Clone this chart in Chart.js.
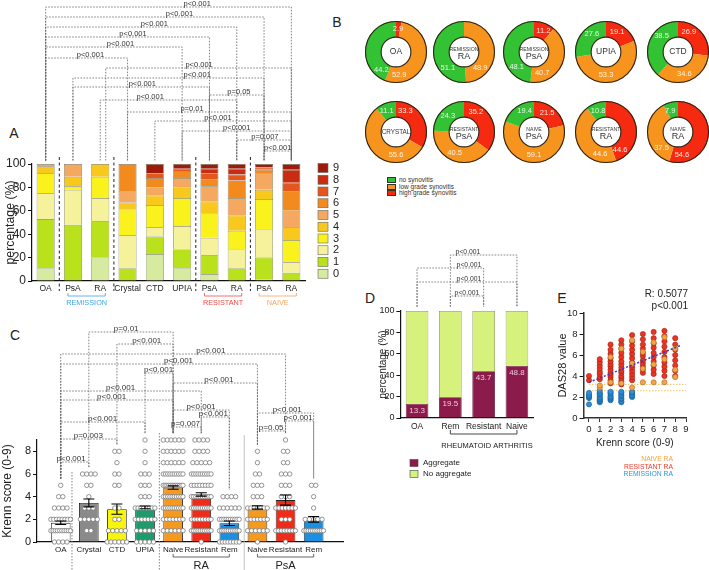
<!DOCTYPE html>
<html>
<head>
<meta charset="utf-8">
<script src="https://cdn.jsdelivr.net/npm/chart.js@4.4.1/dist/chart.umd.min.js"></script>
<style>
body { margin: 0; background: #fff; width: 709px; height: 570px; position: relative; overflow: hidden; font-family: 'Liberation Sans', Arial, sans-serif; }
canvas { position: absolute; }
.lt { position: absolute; font-size: 14px; color: #222; transform: translate(-50%, -50%); }
#legB { position: absolute; left: 387px; top: 177px; font-size: 6.5px; color: #333; line-height: 6.6px; }
#legB span { display: inline-block; width: 7px; height: 4px; border: 0.8px solid #333; margin-right: 3px; vertical-align: middle; }
</style>
</head>
<body>
<div class="lt" style="left:14px;top:133px">A</div>
<div class="lt" style="left:337px;top:22px">B</div>
<div class="lt" style="left:15px;top:335px">C</div>
<div class="lt" style="left:370px;top:298px">D</div>
<div class="lt" style="left:562px;top:298px">E</div>
<div id="legB">
  <div><span style="background:#33c233"></span>no synovitis</div>
  <div><span style="background:#f7941d"></span>low grade synovitis</div>
  <div><span style="background:#f52a10"></span>high grade synovitis</div>
</div>
<script>
// ---- A: Krenn score distribution per group (%) ----
var aCats = ['OA', 'PsA', 'RA', 'Crystal', 'CTD', 'UPIA', 'PsA', 'RA', 'PsA', 'RA'];
var aScores = ['0', '1', '2', '3', '4', '5', '6', '7', '8', '9'];
var aS0 = [11, 0, 20, 0, 23, 11, 6, 0, 1, 0];
var aS1 = [42, 48, 31, 11, 15, 16, 16, 11, 19, 7];
var aS2 = [22, 30, 20, 28, 8, 20, 15, 16, 24, 9];
var aS3 = [17, 3, 18, 22, 19, 24, 21, 16, 26, 19];
var aS4 = [6, 8, 11, 6, 8, 9, 10, 13, 8, 11];
var aS5 = [2, 11, 0, 10, 7, 8, 13, 15, 14, 14];
var aS6 = [0, 0, 0, 23, 8, 6, 6, 15, 3, 17];
var aS7 = [0, 0, 0, 0, 4, 2, 5, 5, 2, 7];
var aS8 = [0, 0, 0, 0, 0, 0, 4, 5, 0, 11];
var aS9 = [0, 0, 0, 0, 8, 4, 4, 4, 3, 5];

// ---- B: synovitis grade (%) ----
var bNames = [['OA'], ['REMISSION', 'RA'], ['REMISSION', 'PsA'], ['UPIA'], ['CTD'],
              ['CRYSTAL'], ['RESISTANT', 'PsA'], ['NAIVE', 'PsA'], ['RESISTANT', 'RA'], ['NAIVE', 'RA']];
var bNone = [44.2, 51.1, 48.1, 27.6, 38.5, 11.1, 24.3, 19.4, 10.8, 7.9];
var bLow = [52.9, 48.9, 40.7, 53.3, 34.6, 55.6, 40.5, 59.1, 44.6, 37.5];
var bHigh = [2.9, 0, 11.2, 19.1, 26.9, 33.3, 35.2, 21.5, 44.6, 54.6];

// ---- C: Krenn score per group ----
var cCats = ['OA', 'Crystal', 'CTD', 'UPIA', 'Naive', 'Resistant', 'Rem', 'Naive', 'Resistant', 'Rem'];
var cMean = [1.7, 3.45, 2.9, 3.05, 4.8, 4.2, 1.65, 3.05, 3.7, 2.0];
var cSem = [0.15, 0.35, 0.45, 0.12, 0.15, 0.15, 0.2, 0.15, 0.45, 0.25];
// patients at Krenn score 0..9
var cCountsOA = [4, 10, 8, 4, 2, 1, 0, 0, 0, 0];
var cCountsCrystal = [0, 2, 5, 3, 1, 2, 4, 0, 0, 0];
var cCountsCTD = [6, 5, 2, 2, 0, 2, 2, 1, 2, 0];
var cCountsUPIA = [5, 5, 7, 8, 3, 3, 3, 1, 1, 1];
var cCountsRANaive = [0, 6, 7, 10, 10, 12, 10, 6, 6, 6];
var cCountsRAResistant = [1, 10, 8, 10, 10, 8, 10, 5, 4, 4];
var cCountsRARem = [8, 10, 10, 6, 4, 0, 0, 0, 0, 0];
var cCountsPsANaive = [1, 6, 7, 7, 3, 3, 2, 1, 1, 0];
var cCountsPsAResistant = [1, 8, 3, 7, 3, 3, 3, 2, 2, 1];
var cCountsPsARem = [0, 10, 5, 1, 1, 2, 0, 0, 0, 0];

// ---- D: lymphoid aggregates (%) ----
var dCats = ['OA', 'Rem', 'Resistant', 'Naive'];
var dAggregate = [13.3, 19.5, 43.7, 48.8];
var dNoAggregate = [86.7, 80.5, 56.3, 51.2];

// ---- E: DAS28 vs Krenn score ----
var eRemX = [0, 0, 0, 0, 0, 0, 1, 1, 1, 1, 1, 1, 1, 1, 1, 1, 2, 2, 2, 2, 2, 2, 2, 2, 3, 3, 3, 3, 3, 3, 3, 3, 4, 4, 4, 4, 4];
var eRemY = [1.3, 1.9, 2.0, 2.1, 2.2, 2.4, 1.5, 1.6, 1.7, 1.8, 1.9, 2.0, 2.2, 2.3, 2.4, 2.6, 1.7, 1.8, 1.9, 2.0, 2.1, 2.3, 2.4, 2.5,
             1.5, 1.6, 1.8, 1.9, 2.1, 2.2, 2.4, 2.5, 2.0, 2.1, 2.2, 2.4, 2.5];
var eNaiveX = [1, 1, 2, 2, 3, 3, 4, 4, 4, 5, 5, 5, 6, 6, 6, 7, 7, 7, 8, 8, 8];
var eNaiveY = [2.9, 3.1, 3.4, 5.8, 3.3, 6.6, 2.9, 5.2, 7.4, 3.4, 4.7, 6.3, 3.4, 5.1, 7.2, 3.4, 5.6, 7.7, 3.9, 4.6, 6.6];
var eResX = [0, 0, 1, 1, 1, 1, 1, 1, 1, 1,
             2, 2, 2, 2, 2, 2, 2, 2, 2, 2, 2, 2, 2,
             3, 3, 3, 3, 3, 3, 3, 3, 3, 3, 3, 3, 3, 3,
             4, 4, 4, 4, 4, 4, 4, 4, 4, 4, 4, 4, 4,
             5, 5, 5, 5, 5, 5, 5, 5, 5, 5, 5,
             6, 6, 6, 6, 6, 6, 6, 6, 6, 6,
             7, 7, 7, 7, 7, 7, 7, 7, 7, 7,
             8, 8, 8, 8, 8, 8, 8, 8];
var eResY = [3.6, 4.0, 3.7, 3.9, 4.2, 4.4, 4.7, 5.0, 5.3, 5.6,
             3.3, 3.6, 3.9, 4.1, 4.3, 4.6, 4.9, 5.1, 5.4, 5.7, 6.1, 6.5, 7.0,
             3.2, 3.5, 3.8, 4.0, 4.3, 4.5, 4.8, 5.1, 5.4, 5.8, 6.2, 6.6, 7.0, 7.4,
             3.6, 3.9, 4.2, 4.5, 4.8, 5.0, 5.3, 5.7, 6.1, 6.5, 6.9, 7.3, 7.9,
             4.3, 4.6, 4.9, 5.2, 5.5, 5.9, 6.2, 6.6, 7.0, 7.5, 8.0,
             4.2, 4.6, 5.0, 5.4, 5.8, 6.2, 6.7, 7.1, 7.6, 8.2,
             4.0, 4.5, 4.9, 5.3, 5.8, 6.3, 6.8, 7.3, 7.8, 8.3,
             4.0, 4.5, 5.0, 5.5, 6.0, 6.5, 7.0, 7.6];
var eFitX = [0, 8.5];
var eFitY = [3.4, 6.9];
var eThresholds = [2.6, 3.2];

var FONT = "'Liberation Sans', Arial, sans-serif";
Chart.defaults.font.family = FONT;
Chart.defaults.color = '#222';
Chart.defaults.animation = false;
Chart.defaults.responsive = false;
Chart.defaults.plugins.legend.display = false;
Chart.defaults.plugins.tooltip.enabled = false;

function mkCanvas(left, top, w, h) {
  var c = document.createElement('canvas');
  c.width = w; c.height = h;
  c.style.left = left + 'px'; c.style.top = top + 'px';
  document.body.appendChild(c);
  return c.getContext('2d');
}

function yAxis(min, max, step, size, title, tsize, tpad, width) {
  return {
    min: min, max: max,
    ticks: { stepSize: step, font: { size: size }, padding: 2, color: '#222' },
    grid: { drawOnChartArea: false, drawTicks: true, tickLength: 4, color: '#111' },
    border: { color: '#111', width: 1.2 },
    title: { display: true, text: title, font: { size: tsize }, padding: { top: tpad, bottom: 0 }, color: '#222' },
    afterFit: function (s) { s.width = width; }
  };
}

// dotted significance brackets; items: [from, to, yPixel, text, textX]
function brackets(items, legTop, font) {
  return {
    id: 'brackets',
    afterDraw: function (chart) {
      var ctx = chart.ctx, x = chart.scales.x, y = chart.scales.y;
      ctx.save();
      ctx.strokeStyle = '#666'; ctx.lineWidth = 0.8; ctx.setLineDash([1.6, 1.4]);
      ctx.fillStyle = '#333'; ctx.font = font; ctx.textAlign = 'center'; ctx.textBaseline = 'alphabetic';
      items.forEach(function (b) {
        var xa = x.getPixelForValue(b[0]), xb = x.getPixelForValue(b[1]), yy = b[2];
        var ta = Array.isArray(legTop) ? legTop[Math.round(b[0])] : legTop;
        var tb = Array.isArray(legTop) ? legTop[Math.round(b[1])] : legTop;
        var ya = Math.max(y.getPixelForValue(ta), yy), yb = Math.max(y.getPixelForValue(tb), yy);
        ctx.beginPath();
        ctx.moveTo(xa, ya); ctx.lineTo(xa, yy); ctx.lineTo(xb, yy); ctx.lineTo(xb, yb);
        ctx.stroke();
        ctx.fillText(b[3], x.getPixelForValue(b[4]), yy - 1.2);
      });
      ctx.restore();
    }
  };
}

// ================= A =================
var aStack = [aS0, aS1, aS2, aS3, aS4, aS5, aS6, aS7, aS8, aS9];
var aColors = ['#d6eba0', '#b9e21c', '#f6f29c', '#faf21c', '#f9c81c', '#f5a860', '#f28a1e', '#e5561c', '#c92c10', '#9e1a0a'];
var aSeparators = [0.5, 2.5, 5.5, 7.5];
var aGroups = [['REMISSION', 1, 2, '#3ea6e6'], ['RESISTANT', 6, 7, '#ef4b43'], ['NAIVE', 8, 9, '#f5a55a']];
var aBrackets = [
  [0, 9, 7, 'p<0.001', 5.55], [0, 8, 17, 'p<0.001', 4.9], [0, 7, 27, 'p<0.001', 3.98],
  [0, 6, 37, 'p<0.001', 3.2], [0, 5, 47, 'p<0.001', 2.74], [0, 3, 58, 'p<0.001', 1.64],
  [2.2, 9, 68, 'p<0.001', 5.62], [1, 8, 78, 'p<0.001', 5.55], [1, 6, 87, 'p<0.001', 3.54],
  [6, 8, 95, 'p=0.05', 7.08], [2, 7, 100, 'p<0.001', 3.83], [3, 9, 112, 'p=0.01', 5.36],
  [4, 9, 121, 'p<0.001', 6.31], [5, 9, 131, 'p<0.001', 7.0], [7, 9, 140, 'p=0.007', 8.03],
  [8, 9, 151, 'p<0.001', 8.5]
];

var aDeco = {
  id: 'aDeco',
  afterDraw: function (chart) {
    var ctx = chart.ctx, x = chart.scales.x;
    ctx.save();
    ctx.strokeStyle = '#222'; ctx.lineWidth = 1; ctx.setLineDash([3, 2.5]);
    aSeparators.forEach(function (v) {
      var px = x.getPixelForValue(v);
      ctx.beginPath(); ctx.moveTo(px, 157); ctx.lineTo(px, 291); ctx.stroke();
    });
    ctx.setLineDash([]);
    ctx.font = '7.3px ' + FONT; ctx.textAlign = 'center'; ctx.textBaseline = 'middle';
    aGroups.forEach(function (g) {
      var xa = x.getPixelForValue(g[1]) - 5, xb = x.getPixelForValue(g[2]) + 5;
      ctx.strokeStyle = g[3]; ctx.lineWidth = 0.8;
      ctx.beginPath(); ctx.moveTo(xa, 293); ctx.lineTo(xa, 296); ctx.lineTo(xb, 296); ctx.lineTo(xb, 293); ctx.stroke();
      ctx.fillStyle = g[3];
      ctx.fillText(g[0], (xa + xb) / 2, 302.5);
    });
    // legend, 9 on top
    ctx.font = '11px ' + FONT; ctx.textAlign = 'left';
    for (var k = 0; k < 10; k++) {
      var i = 9 - k, yy = 168 + k * 11.75;
      ctx.fillStyle = aColors[i]; ctx.fillRect(318, yy - 4.5, 10, 9);
      ctx.strokeStyle = '#666'; ctx.lineWidth = 0.6; ctx.strokeRect(318, yy - 4.5, 10, 9);
      ctx.fillStyle = '#222'; ctx.fillText(aScores[i], 333, yy);
    }
    ctx.restore();
  }
};

new Chart(mkCanvas(0, 0, 370, 315), {
  type: 'bar',
  data: {
    labels: aCats,
    datasets: aStack.map(function (d, i) {
      return { label: aScores[i], data: d, backgroundColor: aColors[i], borderColor: 'rgba(95,95,70,0.85)',
               borderWidth: 0.7, barPercentage: 0.66, categoryPercentage: 1 };
    })
  },
  options: {
    layout: { padding: { top: 164, right: 65, left: 0, bottom: 0 } },
    scales: {
      x: { stacked: true, grid: { display: false, drawTicks: false }, border: { color: '#111', width: 1.2 },
           ticks: { autoSkip: false, maxRotation: 0, font: { size: 8.5 }, padding: 3, color: '#222' },
           afterFit: function (s) { s.height = 34; } },
      y: Object.assign(yAxis(0, 100, 20, 12, 'percentage (%)', 12.3, 3, 32), { stacked: true })
    }
  },
  plugins: [aDeco, brackets(aBrackets, 103, '7.5px ' + FONT)]
});

// ================= B =================
var bCentersX = [396, 464, 534, 606, 678];
var bCentersY = [52, 132];
var bColors = ['#f52a10', '#f7941d', '#33c233'];
// where each value label sits (degrees clockwise from top): high, low, none
var bLabelAngles = [[5, 172, 220], [0, 135, 225], [24, 159, 229], [29, 180, 322], [28, 164, 314],
                    [24, 180, 336], [31, 204, 315], [35, 180, 336], [142, 195, 340], [170, 226, 340]];

function donutDeco(name, angles) {
  return {
    id: 'donutDeco',
    afterDatasetsDraw: function (chart) {
      var ctx = chart.ctx, arcs = chart.getDatasetMeta(0).data, a0 = arcs[0];
      var cx = a0.x, cy = a0.y, ro = a0.outerRadius, ri = a0.innerRadius, rm = (ro + ri) / 2;
      var vals = chart.data.datasets[0].data;
      ctx.save();
      ctx.strokeStyle = '#2e2416'; ctx.lineWidth = 1.1;
      ctx.beginPath(); ctx.arc(cx, cy, ro - 0.5, 0, 2 * Math.PI); ctx.stroke();
      ctx.beginPath(); ctx.arc(cx, cy, ri, 0, 2 * Math.PI); ctx.stroke();
      ctx.font = '7.5px ' + FONT; ctx.fillStyle = 'rgba(255,255,255,0.88)';
      ctx.textAlign = 'center'; ctx.textBaseline = 'middle';
      vals.forEach(function (v, i) {
        if (!v) return;
        var t = angles[i] * Math.PI / 180;
        ctx.fillText(v.toFixed(1), cx + rm * Math.sin(t), cy - rm * Math.cos(t));
      });
      ctx.fillStyle = '#333';
      if (name.length === 1) {
        ctx.font = (name[0].length > 4 ? 6.3 : 8.5) + 'px ' + FONT;
        ctx.fillText(name[0], cx, cy);
      } else {
        ctx.font = '5.2px ' + FONT; ctx.fillText(name[0], cx, cy - 2.5);
        ctx.font = '9px ' + FONT; ctx.fillText(name[1], cx, cy + 5);
      }
      ctx.restore();
    }
  };
}

bNames.forEach(function (name, i) {
  var cx = bCentersX[i % 5], cy = bCentersY[Math.floor(i / 5)];
  new Chart(mkCanvas(cx - 33, cy - 33, 66, 66), {
    type: 'doughnut',
    data: {
      labels: ['high grade synovitis', 'low grade synovitis', 'no synovitis'],
      datasets: [{ data: [bHigh[i], bLow[i], bNone[i]], backgroundColor: bColors, borderWidth: 0, hoverOffset: 0 }]
    },
    options: { cutout: '48%', layout: { padding: 2 } },
    plugins: [donutDeco(name, bLabelAngles[i])]
  });
});

// ================= C =================
var cCounts = [cCountsOA, cCountsCrystal, cCountsCTD, cCountsUPIA, cCountsRANaive,
               cCountsRAResistant, cCountsRARem, cCountsPsANaive, cCountsPsAResistant, cCountsPsARem];
var cColors = ['#ffffff', '#8a8a8a', '#f7f50e', '#1f9a6c', '#f59a1e', '#ef2c1a', '#1b8fe0', '#f59a1e', '#ef2c1a', '#1b8fe0'];
var cDots = [];
var cLegTop = [];
cCounts.forEach(function (row, g) {
  var top = 0;
  row.forEach(function (n, level) {
    if (n > 0) top = level;
    var step = n > 1 ? Math.min(0.15, 0.7 / (n - 1)) : 0;
    for (var k = 0; k < n; k++) cDots.push({ x: g + (k - (n - 1) / 2) * step, y: level });
  });
  cLegTop.push(top + 0.6);
});
var cBrackets = [
  [1, 4, 12, 'p=0.01', 2.33], [2, 4, 24, 'p<0.001', 3.06], [0, 8, 34, 'p<0.001', 5.34],
  [0, 7, 44, 'p<0.001', 4.19], [3, 4, 53, 'p<0.001', 3.48], [4, 7, 63, 'p<0.001', 5.63],
  [0, 5, 71, 'p<0.001', 2.13], [0, 4, 80, 'p<0.001', 1.81], [4, 6, 90, 'p<0.001', 4.99],
  [5, 6, 97, 'p<0.001', 5.43], [0, 3, 102, 'p<0.001', 1.49], [4, 5, 107, 'p=0.007', 4.44],
  [0, 2, 119, 'p=0.003', 0.98], [7, 9, 93, 'p<0.001', 8.06], [8, 9, 101, 'p<0.001', 8.45],
  [7, 8, 111, 'p=0.05', 7.49], [0, 1, 142, 'p<0.001', 0.37]
];
var cGroups = [['RA', 4, 6], ['PsA', 7, 9]];

var cDeco = {
  id: 'cDeco',
  afterDatasetsDraw: function (chart) {
    var ctx = chart.ctx, x = chart.scales.x, y = chart.scales.y;
    ctx.save();
    ctx.strokeStyle = '#000'; ctx.lineWidth = 1.1;
    cMean.forEach(function (m, i) {
      var px = x.getPixelForValue(i), y1 = y.getPixelForValue(m + cSem[i]), y2 = y.getPixelForValue(m - cSem[i]);
      ctx.beginPath();
      ctx.moveTo(px, y1); ctx.lineTo(px, y2);
      ctx.moveTo(px - 5.5, y1); ctx.lineTo(px + 5.5, y1);
      ctx.moveTo(px - 5.5, y2); ctx.lineTo(px + 5.5, y2);
      ctx.stroke();
    });
    ctx.restore();
  },
  afterDraw: function (chart) {
    var ctx = chart.ctx, x = chart.scales.x;
    ctx.save();
    ctx.lineWidth = 0.9;
    ctx.strokeStyle = '#777'; ctx.setLineDash([1.5, 1.5]);
    [[0.4, 152], [3.51, 113]].forEach(function (s) {
      var px = x.getPixelForValue(s[0]);
      ctx.beginPath(); ctx.moveTo(px, s[1]); ctx.lineTo(px, 250); ctx.stroke();
    });
    ctx.setLineDash([]); ctx.strokeStyle = '#bbb';
    var ps = x.getPixelForValue(6.53);
    ctx.beginPath(); ctx.moveTo(ps, 115); ctx.lineTo(ps, 250); ctx.stroke();
    ctx.strokeStyle = '#555'; ctx.fillStyle = '#222';
    ctx.font = '11px ' + FONT; ctx.textAlign = 'center'; ctx.textBaseline = 'middle';
    cGroups.forEach(function (g) {
      var xa = x.getPixelForValue(g[1]), xb = x.getPixelForValue(g[2]);
      ctx.beginPath(); ctx.moveTo(xa, 234); ctx.lineTo(xa, 237); ctx.lineTo(xb, 237); ctx.lineTo(xb, 234); ctx.stroke();
      ctx.fillText(g[0], (xa + xb) / 2, 246);
    });
    ctx.restore();
  }
};

new Chart(mkCanvas(0, 320, 370, 250), {
  type: 'bar',
  data: {
    datasets: [
      { type: 'scatter', data: cDots, pointRadius: 2.2, pointBackgroundColor: '#fff', pointBorderColor: '#7a7a7a',
        pointBorderWidth: 0.8, clip: false, order: 1 },
      { type: 'bar', data: cMean.map(function (m, i) { return { x: i, y: m }; }), backgroundColor: cColors,
        borderColor: '#222', borderWidth: 0.9, barPercentage: 0.7, categoryPercentage: 1, order: 2 }
    ]
  },
  options: {
    layout: { padding: { top: 120, right: 27, left: 0, bottom: 0 } },
    scales: {
      x: { type: 'linear', min: -0.3, max: 9.5,
           afterBuildTicks: function (s) { s.ticks = cCats.map(function (c, i) { return { value: i }; }); },
           ticks: { autoSkip: false, maxRotation: 0, font: { size: 8 }, padding: 3, color: '#222',
                    callback: function (v) { return cCats[v]; } },
           grid: { display: false, drawTicks: false }, border: { color: '#111', width: 1.2 },
           afterFit: function (s) { s.height = 28; } },
      y: yAxis(0, 9, 1, 11, 'Krenn score (0-9)', 12, 0, 37)
    }
  },
  plugins: [cDeco, brackets(cBrackets, cLegTop, '8px ' + FONT)]
});

// ================= D =================
var dBrackets = [[1, 3, 15, 'p<0.001', 1.53], [0, 2, 28, 'p<0.001', 1.56], [0, 3, 42, 'p<0.001', 1.56], [1, 2, 56, 'p<0.001', 1.5]];
var dDeco = {
  id: 'dDeco',
  afterDraw: function (chart) {
    var ctx = chart.ctx, x = chart.scales.x, y = chart.scales.y;
    ctx.save();
    ctx.font = '8px ' + FONT; ctx.fillStyle = '#f3c6d8'; ctx.textAlign = 'center'; ctx.textBaseline = 'middle';
    dAggregate.forEach(function (v, i) { ctx.fillText(v.toFixed(1), x.getPixelForValue(i), y.getPixelForValue(v) + 7); });
    var xa = x.getPixelForValue(1), xb = x.getPixelForValue(3);
    ctx.strokeStyle = '#333'; ctx.lineWidth = 0.9;
    ctx.beginPath(); ctx.moveTo(xa, 190); ctx.lineTo(xa, 194); ctx.lineTo(xb, 194); ctx.lineTo(xb, 190); ctx.stroke();
    ctx.fillStyle = '#222'; ctx.font = '7.5px ' + FONT;
    ctx.fillText('RHEUMATOID ARTHRITIS', 112, 206);
    ctx.textAlign = 'left'; ctx.font = '8px ' + FONT;
    [['Aggregate', '#8b1b4b', 223], ['No aggregate', '#d6f27c', 234]].forEach(function (l) {
      ctx.fillStyle = l[1]; ctx.fillRect(35, l[2] - 3.5, 8, 7);
      ctx.strokeStyle = '#444'; ctx.lineWidth = 0.6; ctx.strokeRect(35, l[2] - 3.5, 8, 7);
      ctx.fillStyle = '#222'; ctx.fillText(l[0], 48, l[2]);
    });
    ctx.restore();
  }
};

new Chart(mkCanvas(375, 240, 185, 245), {
  type: 'bar',
  data: {
    labels: dCats,
    datasets: [
      { label: 'Aggregate', data: dAggregate, backgroundColor: '#8b1b4b', borderColor: '#5a1030', borderWidth: 0.8,
        barPercentage: 0.68, categoryPercentage: 1 },
      { label: 'No aggregate', data: dNoAggregate, backgroundColor: '#d6f27c', borderColor: '#8a9a55', borderWidth: 0.8,
        barPercentage: 0.68, categoryPercentage: 1 }
    ]
  },
  options: {
    layout: { padding: { top: 71, right: 26.4, left: 0, bottom: 0 } },
    scales: {
      x: { stacked: true, grid: { display: false, drawTicks: false }, border: { color: '#111', width: 1.2 },
           ticks: { autoSkip: false, maxRotation: 0, font: { size: 8.5 }, padding: 4, color: '#222' },
           afterFit: function (s) { s.height = 67; } },
      y: Object.assign(yAxis(0, 100, 20, 9, 'percentage (%)', 10, 2, 25.4), { stacked: true })
    }
  },
  plugins: [dDeco, brackets(dBrackets, 104, '6.8px ' + FONT)]
});

// ================= E =================
function pairs(xs, ys) { return xs.map(function (v, i) { return { x: v, y: ys[i] }; }); }
var eDeco = {
  id: 'eDeco',
  afterDraw: function (chart) {
    var ctx = chart.ctx;
    ctx.save();
    ctx.textAlign = 'right'; ctx.textBaseline = 'middle';
    ctx.font = '10px ' + FONT; ctx.fillStyle = '#222';
    ctx.fillText('R: 0.5077', 133, 14);
    ctx.fillText('p<0.001', 133, 26);
    ctx.font = '6.8px ' + FONT;
    [['NAIVE RA', '#f5a142', 179], ['RESISTANT RA', '#ee3a2a', 187], ['REMISSION RA', '#2a95dd', 194]].forEach(function (l) {
      ctx.fillStyle = l[1]; ctx.fillText(l[0], 118, l[2]);
    });
    ctx.restore();
  }
};

new Chart(mkCanvas(555, 280, 154, 200), {
  type: 'scatter',
  data: {
    datasets: [
      { type: 'line', data: pairs(eFitX, eFitY), borderColor: '#3535d0', borderDash: [2, 2], borderWidth: 1.5,
        pointRadius: 0, order: 0 },
      { label: 'NAIVE RA', data: pairs(eNaiveX, eNaiveY), pointRadius: 2.6, pointBackgroundColor: '#f5a347',
        pointBorderColor: '#a86a25', pointBorderWidth: 0.6, order: 1 },
      { label: 'RESISTANT RA', data: pairs(eResX, eResY), pointRadius: 2.6, pointBackgroundColor: '#ee3322',
        pointBorderColor: '#9a2010', pointBorderWidth: 0.6, order: 2 },
      { label: 'REMISSION RA', data: pairs(eRemX, eRemY), pointRadius: 2.6, pointBackgroundColor: '#2b90d9',
        pointBorderColor: '#1a5a90', pointBorderWidth: 0.6, order: 3 },
      { type: 'line', data: [{ x: 0, y: eThresholds[0] }, { x: 9, y: eThresholds[0] }], borderColor: '#f2c46a',
        borderDash: [1.5, 1.5], borderWidth: 1, pointRadius: 0, order: 4 },
      { type: 'line', data: [{ x: 0, y: eThresholds[1] }, { x: 9, y: eThresholds[1] }], borderColor: '#f2c46a',
        borderDash: [1.5, 1.5], borderWidth: 1, pointRadius: 0, order: 4 }
    ]
  },
  options: {
    layout: { padding: { top: 33, right: 23, left: 0, bottom: 30 } },
    scales: {
      x: { type: 'linear', min: -0.5, max: 9,
           afterBuildTicks: function (s) { s.ticks = [0, 1, 2, 3, 4, 5, 6, 7, 8, 9].map(function (v) { return { value: v }; }); },
           ticks: { font: { size: 9.5 }, padding: 2, color: '#222' },
           grid: { drawOnChartArea: false, drawTicks: true, tickLength: 4, color: '#333' },
           border: { color: '#333', width: 1.5 },
           title: { display: true, text: 'Krenn score (0-9)', font: { size: 10 }, padding: { top: 0, bottom: 1 }, color: '#222' },
           afterFit: function (s) { s.height = 32; } },
      y: Object.assign(yAxis(0, 10, 2, 9.5, 'DAS28 value', 11, 1.4, 28.6),
                       { border: { color: '#333', width: 1.5 } })
    }
  },
  plugins: [eDeco]
});
</script>
</body>
</html>
